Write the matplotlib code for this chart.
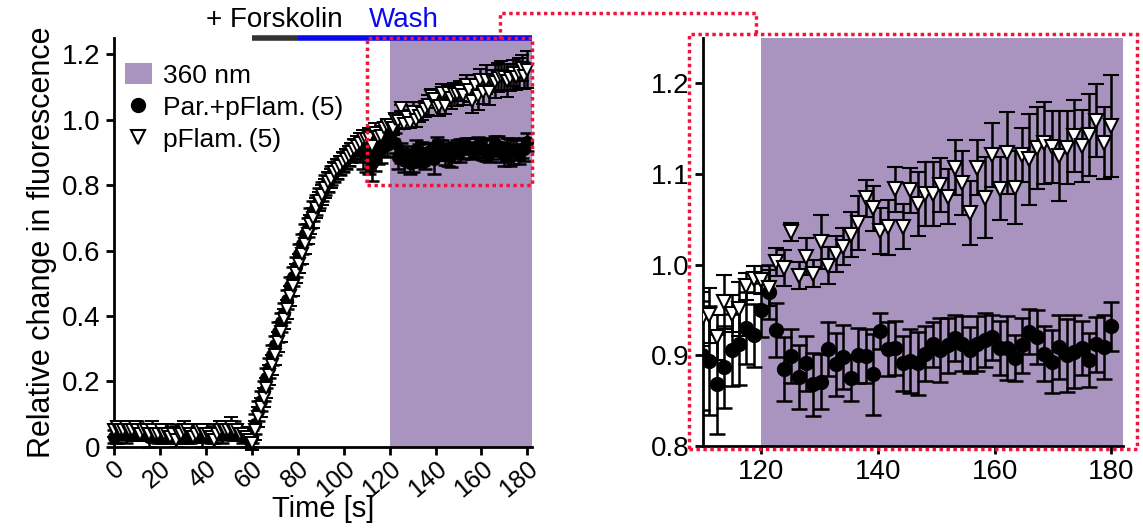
import numpy as np
import matplotlib
matplotlib.use("Agg")
import matplotlib.pyplot as plt
from matplotlib.patches import Patch, Rectangle
from matplotlib.lines import Line2D

plt.rcParams["font.family"] = ["Liberation Sans", "DejaVu Sans"]

# ---------------- data ----------------
# 142 frames between 0 and 180 s
time_s = np.linspace(0, 180, 142)

# Par.+pFlam. : baseline (0-59 s), rise (60-110 s), 360 nm part (111-180 s)
par_base = [0.03, 0.04, 0.05, 0.04, 0.04, 0.05, 0.04, 0.04, 0.05, 0.04,
            0.04, 0.04, 0.03, 0.04, 0.04, 0.03, 0.04, 0.03, 0.04, 0.04,
            0.03, 0.04, 0.04, 0.03, 0.04, 0.04, 0.03, 0.04, 0.04, 0.04,
            0.03, 0.04, 0.04, 0.03, 0.04, 0.04, 0.05, 0.04, 0.05, 0.05,
            0.04, 0.05, 0.04, 0.04, 0.03, 0.03, 0.02]
par_rise = [0.03, 0.07, 0.11, 0.14, 0.17, 0.21, 0.24, 0.28, 0.31, 0.35,
            0.38, 0.41, 0.45, 0.49, 0.52, 0.55, 0.59, 0.62, 0.65, 0.67,
            0.70, 0.72, 0.74, 0.76, 0.78, 0.80, 0.81, 0.83, 0.84, 0.85,
            0.86, 0.87, 0.88, 0.89, 0.90, 0.91, 0.91, 0.91, 0.90, 0.90]
par_uv = [0.894, 0.868, 0.887, 0.906, 0.912, 0.930, 0.922, 0.950, 0.970, 0.928,
          0.885, 0.899, 0.876, 0.891, 0.868, 0.871, 0.907, 0.890, 0.898, 0.875,
          0.900, 0.899, 0.879, 0.927, 0.907, 0.908, 0.891, 0.894, 0.891, 0.902,
          0.912, 0.906, 0.911, 0.919, 0.913, 0.906, 0.913, 0.917, 0.920, 0.908,
          0.908, 0.897, 0.911, 0.926, 0.920, 0.902, 0.893, 0.909, 0.900, 0.904,
          0.908, 0.895, 0.912, 0.909, 0.932]

par_err_base = [0.02, 0.03, 0.02, 0.02, 0.03, 0.02, 0.02, 0.02, 0.03, 0.02,
                0.02, 0.02, 0.03, 0.02, 0.02, 0.02, 0.03, 0.02, 0.02, 0.02,
                0.02, 0.03, 0.02, 0.02, 0.02, 0.03, 0.02, 0.02, 0.02, 0.02,
                0.03, 0.02, 0.02, 0.02, 0.03, 0.02, 0.02, 0.03, 0.02, 0.02,
                0.02, 0.03, 0.02, 0.02, 0.02, 0.03, 0.02]
par_err_rise = [0.02, 0.03, 0.03, 0.03, 0.03, 0.03, 0.03, 0.03, 0.03, 0.03,
                0.03, 0.03, 0.03, 0.03, 0.03, 0.03, 0.03, 0.03, 0.03, 0.03,
                0.03, 0.03, 0.03, 0.03, 0.03, 0.03, 0.03, 0.03, 0.03, 0.03,
                0.03, 0.03, 0.03, 0.03, 0.03, 0.03, 0.03, 0.04, 0.05, 0.06]
par_err_uv = [0.06, 0.055, 0.045, 0.04, 0.045, 0.04, 0.035, 0.03, 0.03, 0.03,
              0.035, 0.03, 0.035, 0.03, 0.035, 0.03, 0.03, 0.035, 0.035, 0.025,
              0.03, 0.03, 0.045, 0.02, 0.03, 0.03, 0.03, 0.035, 0.035, 0.03,
              0.025, 0.035, 0.03, 0.025, 0.03, 0.025, 0.03, 0.03, 0.025, 0.03,
              0.035, 0.025, 0.03, 0.025, 0.03, 0.03, 0.035, 0.035, 0.04, 0.04,
              0.03, 0.03, 0.03, 0.035, 0.027]

# pFlam. alone
pfl_base = [0.05, 0.06, 0.05, 0.05, 0.06, 0.05, 0.05, 0.06, 0.05, 0.04,
            0.05, 0.05, 0.04, 0.05, 0.04, 0.04, 0.05, 0.04, 0.04, 0.03,
            0.04, 0.02, 0.04, 0.04, 0.05, 0.05, 0.04, 0.03, 0.04, 0.05,
            0.05, 0.04, 0.04, 0.03, 0.02, 0.04, 0.05, 0.06, 0.05, 0.05,
            0.06, 0.05, 0.05, 0.04, 0.04, 0.03, 0.02]
pfl_rise = [0.01, 0.05, 0.09, 0.12, 0.15, 0.18, 0.22, 0.25, 0.28, 0.32,
            0.35, 0.39, 0.42, 0.46, 0.49, 0.53, 0.56, 0.59, 0.62, 0.65,
            0.68, 0.70, 0.73, 0.75, 0.77, 0.79, 0.81, 0.82, 0.84, 0.85,
            0.86, 0.87, 0.88, 0.89, 0.90, 0.91, 0.92, 0.93, 0.94, 0.94]
pfl_uv = [0.944, 0.920, 0.959, 0.946, 0.951, 0.976, 0.984, 0.983, 0.974, 1.003,
          0.996, 1.036, 0.988, 1.009, 0.990, 1.025, 0.999, 1.012, 1.020, 1.033,
          1.046, 1.073, 1.062, 1.037, 1.041, 1.083, 1.042, 1.082, 1.067, 1.078,
          1.078, 1.088, 1.075, 1.107, 1.090, 1.057, 1.107, 1.074, 1.121, 1.084,
          1.123, 1.085, 1.121, 1.116, 1.129, 1.134, 1.130, 1.120, 1.129, 1.142,
          1.131, 1.143, 1.159, 1.134, 1.153]

pfl_err_base = [0.02, 0.02, 0.03, 0.02, 0.02, 0.02, 0.03, 0.02, 0.02, 0.02,
                0.02, 0.02, 0.02, 0.03, 0.02, 0.02, 0.02, 0.02, 0.03, 0.02,
                0.02, 0.02, 0.02, 0.02, 0.03, 0.02, 0.02, 0.02, 0.02, 0.02,
                0.02, 0.03, 0.02, 0.02, 0.02, 0.02, 0.03, 0.02, 0.02, 0.02,
                0.03, 0.02, 0.02, 0.02, 0.02, 0.02, 0.02]
pfl_err_rise = [0.02, 0.03, 0.03, 0.03, 0.03, 0.03, 0.03, 0.03, 0.03, 0.03,
                0.03, 0.03, 0.03, 0.03, 0.03, 0.03, 0.03, 0.03, 0.03, 0.03,
                0.03, 0.03, 0.03, 0.03, 0.03, 0.03, 0.03, 0.03, 0.03, 0.03,
                0.03, 0.03, 0.03, 0.03, 0.03, 0.03, 0.03, 0.03, 0.03, 0.03]
pfl_err_uv = [0.03, 0.025, 0.03, 0.02, 0.03, 0.015, 0.015, 0.015, 0.02, 0.015,
              0.02, 0.01, 0.015, 0.02, 0.015, 0.03, 0.02, 0.02, 0.02, 0.025,
              0.03, 0.02, 0.025, 0.025, 0.03, 0.025, 0.025, 0.025, 0.035, 0.035,
              0.035, 0.03, 0.03, 0.03, 0.035, 0.035, 0.03, 0.045, 0.035, 0.035,
              0.045, 0.04, 0.03, 0.05, 0.045, 0.045, 0.04, 0.05, 0.04, 0.04,
              0.04, 0.045, 0.04, 0.04, 0.056]

par_mean = np.array(par_base + par_rise + par_uv)
par_err = np.array(par_err_base + par_err_rise + par_err_uv)
pfl_mean = np.array(pfl_base + pfl_rise + pfl_uv)
pfl_err = np.array(pfl_err_base + pfl_err_rise + pfl_err_uv)

labels = ["360 nm", "Par.+pFlam.\u2009(5)", "pFlam.\u2009(5)"]
uv_start, t_end = 120, 182
purple = "#a994c0"
red = "#f0143c"

# ---------------- figure ----------------
W, H = 1143, 531
fig = plt.figure(figsize=(W / 100, H / 100), dpi=100)
ax1 = fig.add_axes([114 / W, 1 - 446.7 / H, 418 / W, 408.7 / H])
ax2 = fig.add_axes([703 / W, 1 - 446 / H, 420 / W, 408 / H])


def style(ax):
    for s in ["top", "right"]:
        ax.spines[s].set_visible(False)
    for s in ["left", "bottom"]:
        ax.spines[s].set_linewidth(2)
    ax.tick_params(labelsize=20, width=2, length=6, direction="out")


# left panel: full trace
ax1.axvspan(uv_start, t_end, color=purple, lw=0, zorder=0)
ax1.errorbar(time_s, par_mean, yerr=par_err, fmt="o", color="black", ms=8.5,
             capsize=5, elinewidth=1.8, capthick=1.8, clip_on=False, zorder=3)
ax1.errorbar(time_s, pfl_mean, yerr=pfl_err, fmt="v", color="black", mfc="white",
             mec="black", mew=1.4, ms=8.5, capsize=5, elinewidth=1.8, capthick=1.8,
             clip_on=False, zorder=4)
ax1.set_xlim(0, t_end)
ax1.set_ylim(0, 1.25)
ax1.set_xticks(range(0, 181, 20))
ax1.set_xticklabels([str(v) for v in range(0, 181, 20)], rotation=40, ha="right",
                    va="top", rotation_mode="anchor")
ax1.set_yticks([0, 0.2, 0.4, 0.6, 0.8, 1.0, 1.2])
ax1.set_yticklabels(["0", "0.2", "0.4", "0.6", "0.8", "1.0", "1.2"])
style(ax1)
ax1.tick_params(axis="x", pad=1, labelsize=18)
ax1.set_xlabel("Time [s]", fontsize=21)
ax1.xaxis.set_label_coords(0.5, -0.118)
ax1.set_ylabel("Relative change in fluorescence", fontsize=22, labelpad=4)

# treatment bars
ax1.plot([60, 80], [1.25, 1.25], color="#333333", lw=4, solid_capstyle="butt",
         clip_on=False, zorder=6)
ax1.plot([80, t_end], [1.25, 1.25], color="#0a0aee", lw=4, solid_capstyle="butt",
         clip_on=False, zorder=6)
ax1.text(70, 1.305, "+ Forskolin", fontsize=20, ha="center", va="center")
ax1.text(126, 1.305, "Wash", fontsize=20, ha="center", va="center", color="#0a0aee")

handles = [Patch(facecolor=purple, edgecolor="none"),
           Line2D([], [], marker="o", ls="none", color="black", ms=10),
           Line2D([], [], marker="v", ls="none", mfc="white", mec="black", mew=1.5, ms=10)]
ax1.legend(handles, labels, loc="upper left", bbox_to_anchor=(0.0, 0.965),
           frameon=False, fontsize=19, handlelength=1.05, handleheight=0.85,
           handletextpad=0.4, labelspacing=0.28, borderaxespad=0.2, borderpad=0.2)

# zoom box on left panel
ax1.add_patch(Rectangle((110, 0.8), t_end - 110, 0.45, fill=False, ec=red, lw=2.5,
                        ls=(0, (1, 1)), clip_on=False, zorder=7))

# right panel: zoom of 110-182 s
ax2.axvspan(uv_start, t_end, color=purple, lw=0, zorder=0)
ax2.errorbar(time_s, par_mean, yerr=par_err, fmt="o", color="black", ms=10,
             capsize=6, elinewidth=1.8, capthick=1.8, zorder=3)
ax2.errorbar(time_s, pfl_mean, yerr=pfl_err, fmt="v", color="black", mfc="white",
             mec="black", mew=1.5, ms=10, capsize=6, elinewidth=1.8, capthick=1.8,
             zorder=4)
ax2.set_xlim(110, t_end)
ax2.set_ylim(0.8, 1.25)
ax2.set_xticks([120, 140, 160, 180])
ax2.set_yticks([0.8, 0.9, 1.0, 1.1, 1.2])
ax2.set_yticklabels(["0.8", "0.9", "1.0", "1.1", "1.2"])
style(ax2)


# red dotted frame round right panel and connector (figure pixels)
def fx(px):
    return px / W


def fy(py):
    return 1 - py / H


fig.add_artist(Rectangle((fx(689), fy(449)), fx(1137) - fx(689), fy(34) - fy(449),
                         fill=False, ec=red, lw=2.5, ls=(0, (1, 1)),
                         transform=fig.transFigure))
fig.add_artist(Line2D([fx(500), fx(500), fx(756), fx(756)],
                      [fy(39), fy(13), fy(13), fy(34)], color=red, lw=2.5,
                      ls=(0, (1, 1)), transform=fig.transFigure))

fig.savefig("out.png", dpi=100)
